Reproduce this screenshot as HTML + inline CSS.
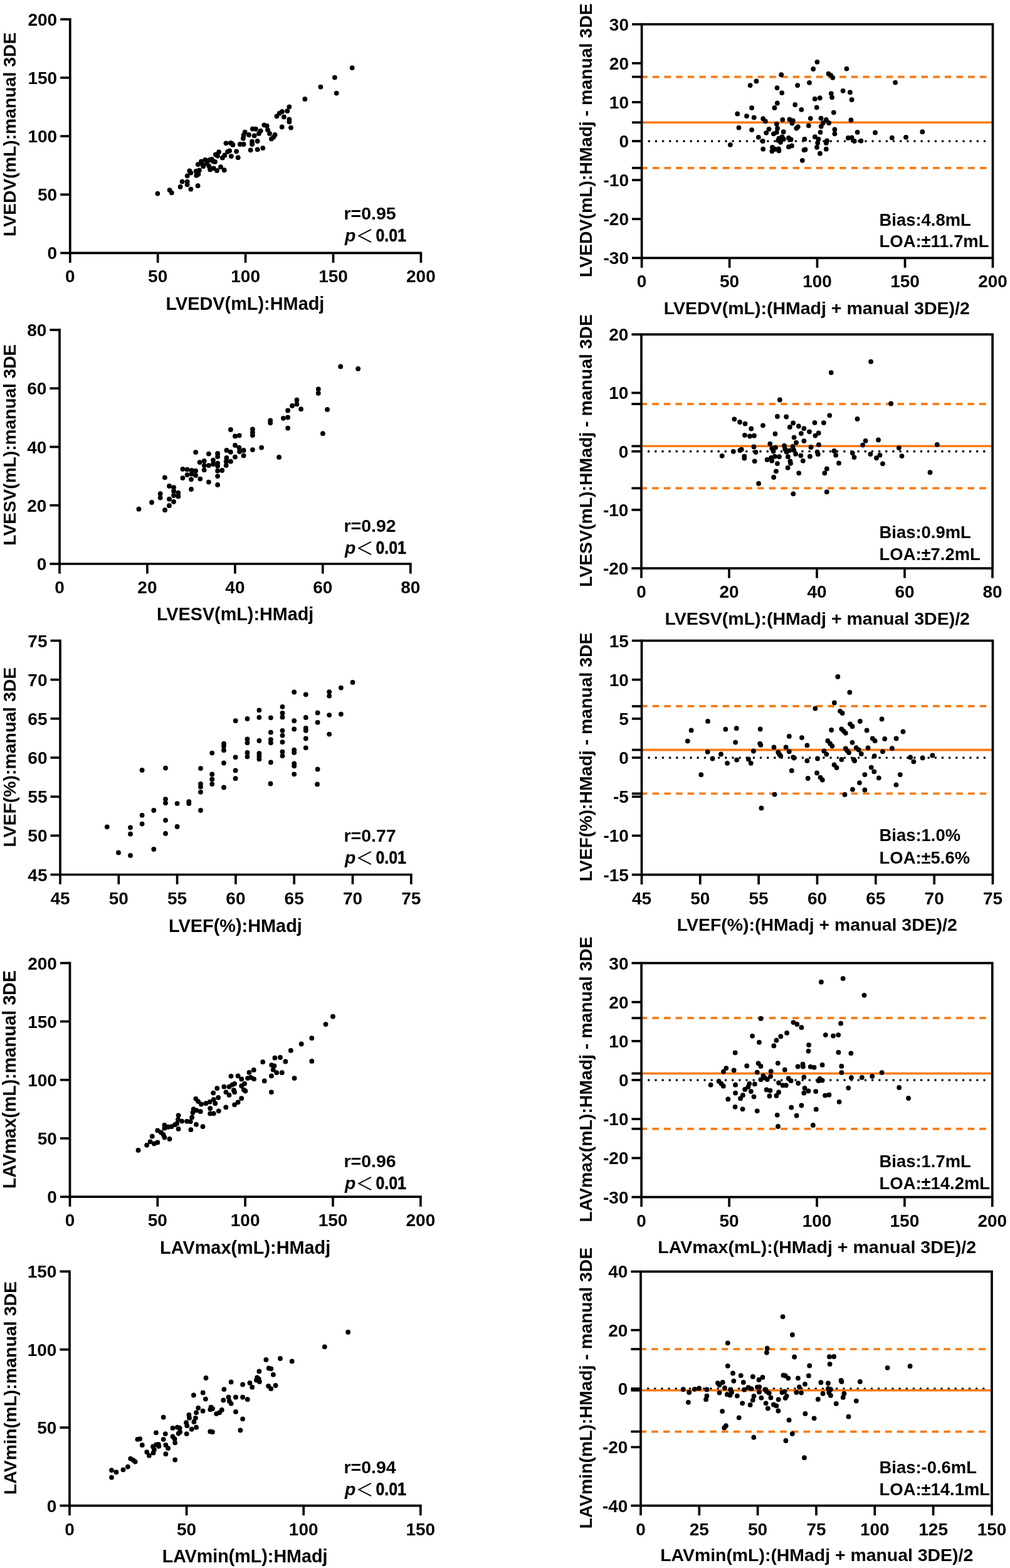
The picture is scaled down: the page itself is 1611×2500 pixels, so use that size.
<!DOCTYPE html><html><head><meta charset="utf-8"><title>Figure</title><style>html,body{margin:0;padding:0;background:#fff}svg{display:block;font-family:"Liberation Sans", Arial, sans-serif;font-weight:bold}</style></head><body>
<svg width="1611" height="2500" viewBox="0 0 1611 2500">
<rect width="1611" height="2500" fill="#fff"/>
<g><circle cx="251.4" cy="308.6" r="3.9"/><circle cx="270.6" cy="303.1" r="3.9"/><circle cx="273.8" cy="307.3" r="3.9"/><circle cx="287.6" cy="297.9" r="3.9"/><circle cx="290.6" cy="289.6" r="3.9"/><circle cx="298.7" cy="289.6" r="3.9"/><circle cx="298.7" cy="294.3" r="3.9"/><circle cx="304.4" cy="301.6" r="3.9"/><circle cx="315.6" cy="296.2" r="3.9"/><circle cx="298.7" cy="280.3" r="3.9"/><circle cx="302.3" cy="272.5" r="3.9"/><circle cx="304.4" cy="275.6" r="3.9"/><circle cx="312.7" cy="273.0" r="3.9"/><circle cx="317.9" cy="271.4" r="3.9"/><circle cx="313.2" cy="279.7" r="3.9"/><circle cx="316.4" cy="277.7" r="3.9"/><circle cx="315.8" cy="262.1" r="3.9"/><circle cx="321.0" cy="259.5" r="3.9"/><circle cx="324.2" cy="265.2" r="3.9"/><circle cx="327.3" cy="254.8" r="3.9"/><circle cx="330.4" cy="261.0" r="3.9"/><circle cx="334.5" cy="254.8" r="3.9"/><circle cx="337.7" cy="253.8" r="3.9"/><circle cx="342.9" cy="257.9" r="3.9"/><circle cx="333.5" cy="265.2" r="3.9"/><circle cx="335.1" cy="270.4" r="3.9"/><circle cx="340.8" cy="268.3" r="3.9"/><circle cx="346.0" cy="271.9" r="3.9"/><circle cx="352.0" cy="266.2" r="3.9"/><circle cx="357.7" cy="271.2" r="3.9"/><circle cx="343.9" cy="246.5" r="3.9"/><circle cx="349.1" cy="242.3" r="3.9"/><circle cx="347.0" cy="248.6" r="3.9"/><circle cx="354.8" cy="251.7" r="3.9"/><circle cx="358.4" cy="247.5" r="3.9"/><circle cx="363.1" cy="241.8" r="3.9"/><circle cx="366.2" cy="240.3" r="3.9"/><circle cx="368.8" cy="249.1" r="3.9"/><circle cx="377.1" cy="241.3" r="3.9"/><circle cx="379.7" cy="251.2" r="3.9"/><circle cx="360.5" cy="228.3" r="3.9"/><circle cx="367.8" cy="227.8" r="3.9"/><circle cx="371.4" cy="230.9" r="3.9"/><circle cx="321.0" cy="257.4" r="3.9"/><circle cx="330.4" cy="257.9" r="3.9"/><circle cx="339.7" cy="256.9" r="3.9"/><circle cx="323.1" cy="262.1" r="3.9"/><circle cx="369.9" cy="228.8" r="3.9"/><circle cx="561.7" cy="108.1" r="3.9"/><circle cx="533.9" cy="123.6" r="3.9"/><circle cx="536.7" cy="148.6" r="3.9"/><circle cx="511.4" cy="138.6" r="3.9"/><circle cx="486.4" cy="157.9" r="3.9"/><circle cx="461.4" cy="170.3" r="3.9"/><circle cx="458.3" cy="176.9" r="3.9"/><circle cx="450.0" cy="177.9" r="3.9"/><circle cx="445.7" cy="180.7" r="3.9"/><circle cx="441.4" cy="185.3" r="3.9"/><circle cx="452.9" cy="186.4" r="3.9"/><circle cx="461.4" cy="190.3" r="3.9"/><circle cx="461.4" cy="194.3" r="3.9"/><circle cx="449.7" cy="202.4" r="3.9"/><circle cx="464.0" cy="203.6" r="3.9"/><circle cx="421.4" cy="199.3" r="3.9"/><circle cx="425.7" cy="200.7" r="3.9"/><circle cx="427.1" cy="207.1" r="3.9"/><circle cx="430.0" cy="212.9" r="3.9"/><circle cx="432.9" cy="221.4" r="3.9"/><circle cx="438.6" cy="215.0" r="3.9"/><circle cx="436.4" cy="218.6" r="3.9"/><circle cx="402.9" cy="205.4" r="3.9"/><circle cx="407.9" cy="205.7" r="3.9"/><circle cx="415.7" cy="208.6" r="3.9"/><circle cx="412.9" cy="212.9" r="3.9"/><circle cx="390.7" cy="210.7" r="3.9"/><circle cx="388.6" cy="215.7" r="3.9"/><circle cx="397.1" cy="215.0" r="3.9"/><circle cx="405.7" cy="216.4" r="3.9"/><circle cx="387.9" cy="220.7" r="3.9"/><circle cx="402.1" cy="225.7" r="3.9"/><circle cx="402.1" cy="230.0" r="3.9"/><circle cx="410.7" cy="225.0" r="3.9"/><circle cx="382.9" cy="230.0" r="3.9"/><circle cx="388.6" cy="230.0" r="3.9"/><circle cx="399.7" cy="239.3" r="3.9"/><circle cx="410.7" cy="238.3" r="3.9"/><circle cx="419.3" cy="236.1" r="3.9"/><path d="M111.8 28.9 V403.4 H673.2" fill="none" stroke="#000" stroke-width="3.7"/><line x1="96.2" y1="403.4" x2="111.8" y2="403.4" stroke="#000" stroke-width="3.7"/><text x="91.2" y="413.4" font-size="28" text-anchor="end">0</text><line x1="96.2" y1="310.2" x2="111.8" y2="310.2" stroke="#000" stroke-width="3.7"/><text x="91.2" y="320.2" font-size="28" text-anchor="end">50</text><line x1="96.2" y1="217.1" x2="111.8" y2="217.1" stroke="#000" stroke-width="3.7"/><text x="91.2" y="227.1" font-size="28" text-anchor="end">100</text><line x1="96.2" y1="123.9" x2="111.8" y2="123.9" stroke="#000" stroke-width="3.7"/><text x="91.2" y="133.9" font-size="28" text-anchor="end">150</text><line x1="96.2" y1="30.8" x2="111.8" y2="30.8" stroke="#000" stroke-width="3.7"/><text x="91.2" y="40.8" font-size="28" text-anchor="end">200</text><line x1="111.8" y1="403.4" x2="111.8" y2="419.0" stroke="#000" stroke-width="3.7"/><text x="111.8" y="450.4" font-size="28" text-anchor="middle">0</text><line x1="251.7" y1="403.4" x2="251.7" y2="419.0" stroke="#000" stroke-width="3.7"/><text x="251.7" y="450.4" font-size="28" text-anchor="middle">50</text><line x1="391.6" y1="403.4" x2="391.6" y2="419.0" stroke="#000" stroke-width="3.7"/><text x="391.6" y="450.4" font-size="28" text-anchor="middle">100</text><line x1="531.5" y1="403.4" x2="531.5" y2="419.0" stroke="#000" stroke-width="3.7"/><text x="531.5" y="450.4" font-size="28" text-anchor="middle">150</text><line x1="671.4" y1="403.4" x2="671.4" y2="419.0" stroke="#000" stroke-width="3.7"/><text x="671.4" y="450.4" font-size="28" text-anchor="middle">200</text><text x="390.9" y="494.4" font-size="28.89" text-anchor="middle">LVEDV(mL):HMadj</text><text transform="translate(25.1 214.4) rotate(-90)" font-size="28.35" text-anchor="middle">LVEDV(mL):manual 3DE</text><text x="548.5" y="350.4" font-size="28.5">r=0.95</text><text x="550.1" y="384.7" font-size="28.5" font-style="italic">p</text><text x="567.2" y="386.7" font-size="28.5" font-weight="normal" font-family="'Noto Sans CJK SC','Noto Sans CJK JP',sans-serif">＜</text><text transform="translate(599.4 384.7) scale(0.855 1)" font-size="29.2" stroke="#000" stroke-width="0.5">0.01</text></g>
<g><circle cx="367.9" cy="685.0" r="3.9"/><circle cx="375.0" cy="695.4" r="3.9"/><circle cx="381.7" cy="694.3" r="3.9"/><circle cx="402.9" cy="684.3" r="3.9"/><circle cx="402.9" cy="689.3" r="3.9"/><circle cx="402.9" cy="694.0" r="3.9"/><circle cx="402.9" cy="717.1" r="3.9"/><circle cx="417.1" cy="713.6" r="3.9"/><circle cx="375.0" cy="710.0" r="3.9"/><circle cx="381.4" cy="713.6" r="3.9"/><circle cx="382.1" cy="720.0" r="3.9"/><circle cx="388.6" cy="717.9" r="3.9"/><circle cx="388.6" cy="726.4" r="3.9"/><circle cx="375.0" cy="728.6" r="3.9"/><circle cx="361.4" cy="717.9" r="3.9"/><circle cx="367.9" cy="720.7" r="3.9"/><circle cx="361.4" cy="730.0" r="3.9"/><circle cx="360.7" cy="735.7" r="3.9"/><circle cx="367.9" cy="735.7" r="3.9"/><circle cx="360.7" cy="742.1" r="3.9"/><circle cx="347.1" cy="722.9" r="3.9"/><circle cx="347.1" cy="727.9" r="3.9"/><circle cx="340.0" cy="733.6" r="3.9"/><circle cx="347.1" cy="738.6" r="3.9"/><circle cx="347.1" cy="742.9" r="3.9"/><circle cx="340.0" cy="740.0" r="3.9"/><circle cx="332.9" cy="742.1" r="3.9"/><circle cx="332.9" cy="723.6" r="3.9"/><circle cx="325.7" cy="735.0" r="3.9"/><circle cx="318.6" cy="737.1" r="3.9"/><circle cx="325.7" cy="742.1" r="3.9"/><circle cx="325.7" cy="749.3" r="3.9"/><circle cx="312.1" cy="721.1" r="3.9"/><circle cx="354.3" cy="750.0" r="3.9"/><circle cx="347.1" cy="750.7" r="3.9"/><circle cx="347.1" cy="759.3" r="3.9"/><circle cx="347.1" cy="772.9" r="3.9"/><circle cx="332.9" cy="768.6" r="3.9"/><circle cx="319.3" cy="763.6" r="3.9"/><circle cx="291.4" cy="747.9" r="3.9"/><circle cx="298.6" cy="748.6" r="3.9"/><circle cx="305.7" cy="750.0" r="3.9"/><circle cx="312.1" cy="750.7" r="3.9"/><circle cx="298.6" cy="757.1" r="3.9"/><circle cx="305.7" cy="755.7" r="3.9"/><circle cx="312.1" cy="757.9" r="3.9"/><circle cx="305.0" cy="764.3" r="3.9"/><circle cx="291.4" cy="762.1" r="3.9"/><circle cx="305.0" cy="780.0" r="3.9"/><circle cx="262.9" cy="761.4" r="3.9"/><circle cx="270.0" cy="775.0" r="3.9"/><circle cx="277.1" cy="777.1" r="3.9"/><circle cx="277.1" cy="782.9" r="3.9"/><circle cx="284.3" cy="785.7" r="3.9"/><circle cx="284.3" cy="791.4" r="3.9"/><circle cx="277.1" cy="790.0" r="3.9"/><circle cx="255.7" cy="787.1" r="3.9"/><circle cx="255.7" cy="793.6" r="3.9"/><circle cx="270.0" cy="795.7" r="3.9"/><circle cx="221.4" cy="811.7" r="3.9"/><circle cx="242.0" cy="801.0" r="3.9"/><circle cx="277.1" cy="800.0" r="3.9"/><circle cx="269.9" cy="806.2" r="3.9"/><circle cx="263.1" cy="813.2" r="3.9"/><circle cx="543.2" cy="584.4" r="3.9"/><circle cx="571.2" cy="587.9" r="3.9"/><circle cx="507.8" cy="620.4" r="3.9"/><circle cx="507.8" cy="626.9" r="3.9"/><circle cx="473.4" cy="637.7" r="3.9"/><circle cx="473.4" cy="644.4" r="3.9"/><circle cx="466.0" cy="647.0" r="3.9"/><circle cx="480.1" cy="652.2" r="3.9"/><circle cx="459.1" cy="654.5" r="3.9"/><circle cx="522.1" cy="652.9" r="3.9"/><circle cx="451.9" cy="666.8" r="3.9"/><circle cx="459.1" cy="665.5" r="3.9"/><circle cx="431.2" cy="670.4" r="3.9"/><circle cx="431.2" cy="674.3" r="3.9"/><circle cx="459.1" cy="682.7" r="3.9"/><circle cx="514.9" cy="691.2" r="3.9"/><circle cx="445.1" cy="728.9" r="3.9"/><path d="M95.0 524.1 V899.0 H656.6" fill="none" stroke="#000" stroke-width="3.7"/><line x1="79.4" y1="899.0" x2="95.0" y2="899.0" stroke="#000" stroke-width="3.7"/><text x="74.4" y="909.0" font-size="28" text-anchor="end">0</text><line x1="79.4" y1="805.7" x2="95.0" y2="805.7" stroke="#000" stroke-width="3.7"/><text x="74.4" y="815.7" font-size="28" text-anchor="end">20</text><line x1="79.4" y1="712.5" x2="95.0" y2="712.5" stroke="#000" stroke-width="3.7"/><text x="74.4" y="722.5" font-size="28" text-anchor="end">40</text><line x1="79.4" y1="619.2" x2="95.0" y2="619.2" stroke="#000" stroke-width="3.7"/><text x="74.4" y="629.2" font-size="28" text-anchor="end">60</text><line x1="79.4" y1="526.0" x2="95.0" y2="526.0" stroke="#000" stroke-width="3.7"/><text x="74.4" y="536.0" font-size="28" text-anchor="end">80</text><line x1="95.0" y1="899.0" x2="95.0" y2="914.6" stroke="#000" stroke-width="3.7"/><text x="95.0" y="946.0" font-size="28" text-anchor="middle">0</text><line x1="234.9" y1="899.0" x2="234.9" y2="914.6" stroke="#000" stroke-width="3.7"/><text x="234.9" y="946.0" font-size="28" text-anchor="middle">20</text><line x1="374.9" y1="899.0" x2="374.9" y2="914.6" stroke="#000" stroke-width="3.7"/><text x="374.9" y="946.0" font-size="28" text-anchor="middle">40</text><line x1="514.8" y1="899.0" x2="514.8" y2="914.6" stroke="#000" stroke-width="3.7"/><text x="514.8" y="946.0" font-size="28" text-anchor="middle">60</text><line x1="654.8" y1="899.0" x2="654.8" y2="914.6" stroke="#000" stroke-width="3.7"/><text x="654.8" y="946.0" font-size="28" text-anchor="middle">80</text><text x="375.1" y="989.1" font-size="28.78" text-anchor="middle">LVESV(mL):HMadj</text><text transform="translate(25.4 709.2) rotate(-90)" font-size="28.09" text-anchor="middle">LVESV(mL):manual 3DE</text><text x="548.5" y="848.2" font-size="28.5">r=0.92</text><text x="550.1" y="883.2" font-size="28.5" font-style="italic">p</text><text x="567.2" y="885.2" font-size="28.5" font-weight="normal" font-family="'Noto Sans CJK SC','Noto Sans CJK JP',sans-serif">＜</text><text transform="translate(599.4 883.2) scale(0.855 1)" font-size="29.2" stroke="#000" stroke-width="0.5">0.01</text></g>
<g><circle cx="170.8" cy="1318.3" r="3.9"/><circle cx="189.0" cy="1359.4" r="3.9"/><circle cx="208.0" cy="1319.3" r="3.9"/><circle cx="208.0" cy="1329.7" r="3.9"/><circle cx="208.0" cy="1363.9" r="3.9"/><circle cx="226.6" cy="1227.9" r="3.9"/><circle cx="226.6" cy="1299.8" r="3.9"/><circle cx="226.6" cy="1313.6" r="3.9"/><circle cx="245.3" cy="1292.0" r="3.9"/><circle cx="245.3" cy="1354.0" r="3.9"/><circle cx="264.0" cy="1224.6" r="3.9"/><circle cx="264.0" cy="1274.2" r="3.9"/><circle cx="264.0" cy="1280.3" r="3.9"/><circle cx="264.0" cy="1307.8" r="3.9"/><circle cx="264.0" cy="1328.9" r="3.9"/><circle cx="282.6" cy="1281.1" r="3.9"/><circle cx="282.6" cy="1318.0" r="3.9"/><circle cx="301.3" cy="1278.2" r="3.9"/><circle cx="301.3" cy="1281.0" r="3.9"/><circle cx="320.0" cy="1225.1" r="3.9"/><circle cx="320.0" cy="1249.8" r="3.9"/><circle cx="320.0" cy="1254.4" r="3.9"/><circle cx="320.0" cy="1262.8" r="3.9"/><circle cx="320.0" cy="1292.0" r="3.9"/><circle cx="338.3" cy="1200.6" r="3.9"/><circle cx="338.3" cy="1234.4" r="3.9"/><circle cx="338.3" cy="1242.5" r="3.9"/><circle cx="338.3" cy="1250.1" r="3.9"/><circle cx="357.0" cy="1185.7" r="3.9"/><circle cx="357.0" cy="1189.7" r="3.9"/><circle cx="357.0" cy="1196.2" r="3.9"/><circle cx="357.0" cy="1216.5" r="3.9"/><circle cx="357.0" cy="1255.5" r="3.9"/><circle cx="375.6" cy="1207.3" r="3.9"/><circle cx="375.6" cy="1228.4" r="3.9"/><circle cx="375.6" cy="1241.2" r="3.9"/><circle cx="394.5" cy="1146.0" r="3.9"/><circle cx="394.5" cy="1178.4" r="3.9"/><circle cx="394.5" cy="1184.3" r="3.9"/><circle cx="394.5" cy="1199.9" r="3.9"/><circle cx="394.5" cy="1206.4" r="3.9"/><circle cx="413.4" cy="1132.3" r="3.9"/><circle cx="413.4" cy="1143.8" r="3.9"/><circle cx="413.4" cy="1181.0" r="3.9"/><circle cx="413.4" cy="1201.2" r="3.9"/><circle cx="413.4" cy="1205.7" r="3.9"/><circle cx="413.4" cy="1210.3" r="3.9"/><circle cx="431.9" cy="1144.3" r="3.9"/><circle cx="431.9" cy="1167.7" r="3.9"/><circle cx="431.9" cy="1179.1" r="3.9"/><circle cx="431.9" cy="1184.3" r="3.9"/><circle cx="431.9" cy="1215.5" r="3.9"/><circle cx="450.5" cy="1126.8" r="3.9"/><circle cx="450.5" cy="1136.9" r="3.9"/><circle cx="450.5" cy="1143.4" r="3.9"/><circle cx="450.5" cy="1164.8" r="3.9"/><circle cx="450.5" cy="1172.6" r="3.9"/><circle cx="450.5" cy="1183.2" r="3.9"/><circle cx="450.5" cy="1198.6" r="3.9"/><circle cx="450.5" cy="1205.1" r="3.9"/><circle cx="469.2" cy="1103.5" r="3.9"/><circle cx="469.2" cy="1149.2" r="3.9"/><circle cx="469.2" cy="1162.5" r="3.9"/><circle cx="469.2" cy="1195.7" r="3.9"/><circle cx="469.2" cy="1199.9" r="3.9"/><circle cx="469.2" cy="1217.4" r="3.9"/><circle cx="469.2" cy="1221.3" r="3.9"/><circle cx="469.2" cy="1234.3" r="3.9"/><circle cx="487.8" cy="1107.3" r="3.9"/><circle cx="487.8" cy="1144.0" r="3.9"/><circle cx="487.8" cy="1160.9" r="3.9"/><circle cx="487.8" cy="1164.8" r="3.9"/><circle cx="487.8" cy="1177.5" r="3.9"/><circle cx="487.8" cy="1192.3" r="3.9"/><circle cx="506.6" cy="1136.5" r="3.9"/><circle cx="506.6" cy="1151.8" r="3.9"/><circle cx="506.6" cy="1226.5" r="3.9"/><circle cx="525.2" cy="1103.1" r="3.9"/><circle cx="525.2" cy="1109.6" r="3.9"/><circle cx="525.2" cy="1140.1" r="3.9"/><circle cx="525.2" cy="1170.6" r="3.9"/><circle cx="543.9" cy="1096.6" r="3.9"/><circle cx="543.9" cy="1138.6" r="3.9"/><circle cx="562.5" cy="1087.9" r="3.9"/><circle cx="375.7" cy="1149.2" r="3.9"/><circle cx="431.5" cy="1249.5" r="3.9"/><circle cx="506.1" cy="1250.4" r="3.9"/><path d="M96.0 1019.7 V1394.5 H657.6" fill="none" stroke="#000" stroke-width="3.7"/><line x1="80.5" y1="1394.5" x2="96.0" y2="1394.5" stroke="#000" stroke-width="3.7"/><text x="75.5" y="1404.5" font-size="28" text-anchor="end">45</text><line x1="80.5" y1="1332.3" x2="96.0" y2="1332.3" stroke="#000" stroke-width="3.7"/><text x="75.5" y="1342.3" font-size="28" text-anchor="end">50</text><line x1="80.5" y1="1270.2" x2="96.0" y2="1270.2" stroke="#000" stroke-width="3.7"/><text x="75.5" y="1280.2" font-size="28" text-anchor="end">55</text><line x1="80.5" y1="1208.0" x2="96.0" y2="1208.0" stroke="#000" stroke-width="3.7"/><text x="75.5" y="1218.0" font-size="28" text-anchor="end">60</text><line x1="80.5" y1="1145.8" x2="96.0" y2="1145.8" stroke="#000" stroke-width="3.7"/><text x="75.5" y="1155.8" font-size="28" text-anchor="end">65</text><line x1="80.5" y1="1083.7" x2="96.0" y2="1083.7" stroke="#000" stroke-width="3.7"/><text x="75.5" y="1093.7" font-size="28" text-anchor="end">70</text><line x1="80.5" y1="1021.5" x2="96.0" y2="1021.5" stroke="#000" stroke-width="3.7"/><text x="75.5" y="1031.5" font-size="28" text-anchor="end">75</text><line x1="96.0" y1="1394.5" x2="96.0" y2="1410.0" stroke="#000" stroke-width="3.7"/><text x="96.0" y="1441.5" font-size="28" text-anchor="middle">45</text><line x1="189.3" y1="1394.5" x2="189.3" y2="1410.0" stroke="#000" stroke-width="3.7"/><text x="189.3" y="1441.5" font-size="28" text-anchor="middle">50</text><line x1="282.6" y1="1394.5" x2="282.6" y2="1410.0" stroke="#000" stroke-width="3.7"/><text x="282.6" y="1441.5" font-size="28" text-anchor="middle">55</text><line x1="375.9" y1="1394.5" x2="375.9" y2="1410.0" stroke="#000" stroke-width="3.7"/><text x="375.9" y="1441.5" font-size="28" text-anchor="middle">60</text><line x1="469.2" y1="1394.5" x2="469.2" y2="1410.0" stroke="#000" stroke-width="3.7"/><text x="469.2" y="1441.5" font-size="28" text-anchor="middle">65</text><line x1="562.5" y1="1394.5" x2="562.5" y2="1410.0" stroke="#000" stroke-width="3.7"/><text x="562.5" y="1441.5" font-size="28" text-anchor="middle">70</text><line x1="655.8" y1="1394.5" x2="655.8" y2="1410.0" stroke="#000" stroke-width="3.7"/><text x="655.8" y="1441.5" font-size="28" text-anchor="middle">75</text><text x="375.4" y="1485.5" font-size="28.9" text-anchor="middle">LVEF(%):HMadj</text><text transform="translate(24.9 1207.3) rotate(-90)" font-size="28.44" text-anchor="middle">LVEF(%):manual 3DE</text><text x="548.5" y="1341.8" font-size="28.5">r=0.77</text><text x="550.1" y="1376.8" font-size="28.5" font-style="italic">p</text><text x="567.2" y="1378.8" font-size="28.5" font-weight="normal" font-family="'Noto Sans CJK SC','Noto Sans CJK JP',sans-serif">＜</text><text transform="translate(599.4 1376.8) scale(0.855 1)" font-size="29.2" stroke="#000" stroke-width="0.5">0.01</text></g>
<g><circle cx="220.5" cy="1833.9" r="3.9"/><circle cx="234.1" cy="1825.8" r="3.9"/><circle cx="239.6" cy="1820.3" r="3.9"/><circle cx="245.8" cy="1823.4" r="3.9"/><circle cx="251.3" cy="1821.5" r="3.9"/><circle cx="242.7" cy="1811.7" r="3.9"/><circle cx="251.3" cy="1802.4" r="3.9"/><circle cx="256.9" cy="1805.5" r="3.9"/><circle cx="260.6" cy="1809.2" r="3.9"/><circle cx="262.4" cy="1813.5" r="3.9"/><circle cx="270.5" cy="1816.0" r="3.9"/><circle cx="262.4" cy="1793.8" r="3.9"/><circle cx="262.4" cy="1798.7" r="3.9"/><circle cx="268.0" cy="1796.9" r="3.9"/><circle cx="273.5" cy="1796.2" r="3.9"/><circle cx="279.1" cy="1793.2" r="3.9"/><circle cx="284.6" cy="1778.3" r="3.9"/><circle cx="284.0" cy="1785.1" r="3.9"/><circle cx="290.2" cy="1787.6" r="3.9"/><circle cx="282.2" cy="1791.3" r="3.9"/><circle cx="284.6" cy="1799.9" r="3.9"/><circle cx="298.2" cy="1787.8" r="3.9"/><circle cx="303.8" cy="1788.2" r="3.9"/><circle cx="306.2" cy="1781.4" r="3.9"/><circle cx="307.5" cy="1774.0" r="3.9"/><circle cx="308.7" cy="1768.5" r="3.9"/><circle cx="313.6" cy="1770.3" r="3.9"/><circle cx="319.8" cy="1772.2" r="3.9"/><circle cx="304.4" cy="1801.2" r="3.9"/><circle cx="313.0" cy="1792.8" r="3.9"/><circle cx="323.5" cy="1796.2" r="3.9"/><circle cx="312.4" cy="1751.8" r="3.9"/><circle cx="316.1" cy="1756.1" r="3.9"/><circle cx="321.0" cy="1760.5" r="3.9"/><circle cx="328.4" cy="1759.2" r="3.9"/><circle cx="334.6" cy="1756.8" r="3.9"/><circle cx="340.8" cy="1753.1" r="3.9"/><circle cx="343.3" cy="1759.2" r="3.9"/><circle cx="348.2" cy="1750.0" r="3.9"/><circle cx="340.2" cy="1742.6" r="3.9"/><circle cx="346.3" cy="1735.2" r="3.9"/><circle cx="335.2" cy="1767.2" r="3.9"/><circle cx="335.2" cy="1775.5" r="3.9"/><circle cx="340.8" cy="1775.3" r="3.9"/><circle cx="348.8" cy="1771.3" r="3.9"/><circle cx="360.3" cy="1765.4" r="3.9"/><circle cx="357.4" cy="1732.7" r="3.9"/><circle cx="360.5" cy="1741.3" r="3.9"/><circle cx="365.5" cy="1745.9" r="3.9"/><circle cx="368.5" cy="1715.8" r="3.9"/><circle cx="365.5" cy="1732.7" r="3.9"/><circle cx="370.4" cy="1729.6" r="3.9"/><circle cx="374.1" cy="1727.8" r="3.9"/><circle cx="372.9" cy="1738.2" r="3.9"/><circle cx="374.1" cy="1741.3" r="3.9"/><circle cx="379.6" cy="1715.4" r="3.9"/><circle cx="385.2" cy="1720.4" r="3.9"/><circle cx="385.2" cy="1731.5" r="3.9"/><circle cx="390.1" cy="1727.8" r="3.9"/><circle cx="388.9" cy="1737.6" r="3.9"/><circle cx="391.4" cy="1739.5" r="3.9"/><circle cx="395.1" cy="1719.1" r="3.9"/><circle cx="397.5" cy="1709.9" r="3.9"/><circle cx="374.1" cy="1761.3" r="3.9"/><circle cx="379.6" cy="1757.4" r="3.9"/><circle cx="385.2" cy="1751.2" r="3.9"/><circle cx="531.0" cy="1620.7" r="3.9"/><circle cx="519.5" cy="1633.1" r="3.9"/><circle cx="497.3" cy="1655.2" r="3.9"/><circle cx="480.7" cy="1664.5" r="3.9"/><circle cx="463.8" cy="1674.9" r="3.9"/><circle cx="497.3" cy="1691.9" r="3.9"/><circle cx="438.4" cy="1686.7" r="3.9"/><circle cx="447.0" cy="1686.0" r="3.9"/><circle cx="455.4" cy="1692.5" r="3.9"/><circle cx="419.2" cy="1693.2" r="3.9"/><circle cx="433.2" cy="1698.1" r="3.9"/><circle cx="437.5" cy="1699.3" r="3.9"/><circle cx="435.7" cy="1705.5" r="3.9"/><circle cx="441.2" cy="1710.2" r="3.9"/><circle cx="449.8" cy="1710.2" r="3.9"/><circle cx="432.9" cy="1715.4" r="3.9"/><circle cx="469.6" cy="1719.1" r="3.9"/><circle cx="421.8" cy="1723.4" r="3.9"/><circle cx="432.9" cy="1741.3" r="3.9"/><circle cx="404.8" cy="1705.9" r="3.9"/><circle cx="399.9" cy="1717.8" r="3.9"/><circle cx="405.1" cy="1720.3" r="3.9"/><path d="M111.5 1533.6 V1908.2 H672.7" fill="none" stroke="#000" stroke-width="3.7"/><line x1="95.9" y1="1908.2" x2="111.5" y2="1908.2" stroke="#000" stroke-width="3.7"/><text x="90.9" y="1918.2" font-size="28" text-anchor="end">0</text><line x1="95.9" y1="1815.0" x2="111.5" y2="1815.0" stroke="#000" stroke-width="3.7"/><text x="90.9" y="1825.0" font-size="28" text-anchor="end">50</text><line x1="95.9" y1="1721.8" x2="111.5" y2="1721.8" stroke="#000" stroke-width="3.7"/><text x="90.9" y="1731.8" font-size="28" text-anchor="end">100</text><line x1="95.9" y1="1628.6" x2="111.5" y2="1628.6" stroke="#000" stroke-width="3.7"/><text x="90.9" y="1638.6" font-size="28" text-anchor="end">150</text><line x1="95.9" y1="1535.5" x2="111.5" y2="1535.5" stroke="#000" stroke-width="3.7"/><text x="90.9" y="1545.5" font-size="28" text-anchor="end">200</text><line x1="111.5" y1="1908.2" x2="111.5" y2="1923.8" stroke="#000" stroke-width="3.7"/><text x="111.5" y="1955.2" font-size="28" text-anchor="middle">0</text><line x1="251.3" y1="1908.2" x2="251.3" y2="1923.8" stroke="#000" stroke-width="3.7"/><text x="251.3" y="1955.2" font-size="28" text-anchor="middle">50</text><line x1="391.1" y1="1908.2" x2="391.1" y2="1923.8" stroke="#000" stroke-width="3.7"/><text x="391.1" y="1955.2" font-size="28" text-anchor="middle">100</text><line x1="531.0" y1="1908.2" x2="531.0" y2="1923.8" stroke="#000" stroke-width="3.7"/><text x="531.0" y="1955.2" font-size="28" text-anchor="middle">150</text><line x1="670.9" y1="1908.2" x2="670.9" y2="1923.8" stroke="#000" stroke-width="3.7"/><text x="670.9" y="1955.2" font-size="28" text-anchor="middle">200</text><text x="391.2" y="1998.7" font-size="28.89" text-anchor="middle">LAVmax(mL):HMadj</text><text transform="translate(25.3 1721.2) rotate(-90)" font-size="28.66" text-anchor="middle">LAVmax(mL):manual 3DE</text><text x="548.5" y="1861.4" font-size="28.5">r=0.96</text><text x="550.1" y="1895.9" font-size="28.5" font-style="italic">p</text><text x="567.2" y="1897.9" font-size="28.5" font-weight="normal" font-family="'Noto Sans CJK SC','Noto Sans CJK JP',sans-serif">＜</text><text transform="translate(599.4 1895.9) scale(0.855 1)" font-size="29.2" stroke="#000" stroke-width="0.5">0.01</text></g>
<g><circle cx="178.0" cy="2344.1" r="3.9"/><circle cx="185.4" cy="2347.2" r="3.9"/><circle cx="178.0" cy="2355.6" r="3.9"/><circle cx="196.5" cy="2343.3" r="3.9"/><circle cx="203.9" cy="2338.6" r="3.9"/><circle cx="208.2" cy="2325.6" r="3.9"/><circle cx="212.6" cy="2328.1" r="3.9"/><circle cx="215.7" cy="2330.6" r="3.9"/><circle cx="219.4" cy="2294.8" r="3.9"/><circle cx="223.1" cy="2294.2" r="3.9"/><circle cx="226.8" cy="2304.0" r="3.9"/><circle cx="234.2" cy="2315.1" r="3.9"/><circle cx="237.9" cy="2320.7" r="3.9"/><circle cx="244.6" cy="2316.4" r="3.9"/><circle cx="245.9" cy="2311.4" r="3.9"/><circle cx="244.0" cy="2306.5" r="3.9"/><circle cx="249.0" cy="2303.4" r="3.9"/><circle cx="252.7" cy="2302.8" r="3.9"/><circle cx="253.3" cy="2305.9" r="3.9"/><circle cx="249.0" cy="2284.3" r="3.9"/><circle cx="260.7" cy="2259.6" r="3.9"/><circle cx="263.8" cy="2286.1" r="3.9"/><circle cx="260.7" cy="2294.8" r="3.9"/><circle cx="264.4" cy="2304.0" r="3.9"/><circle cx="268.1" cy="2309.0" r="3.9"/><circle cx="264.4" cy="2318.2" r="3.9"/><circle cx="275.5" cy="2276.9" r="3.9"/><circle cx="282.9" cy="2275.7" r="3.9"/><circle cx="286.6" cy="2276.9" r="3.9"/><circle cx="275.5" cy="2290.5" r="3.9"/><circle cx="278.6" cy="2294.2" r="3.9"/><circle cx="279.2" cy="2300.3" r="3.9"/><circle cx="284.7" cy="2285.5" r="3.9"/><circle cx="287.2" cy="2283.1" r="3.9"/><circle cx="279.2" cy="2327.5" r="3.9"/><circle cx="297.7" cy="2286.1" r="3.9"/><circle cx="297.1" cy="2268.2" r="3.9"/><circle cx="298.3" cy="2273.2" r="3.9"/><circle cx="301.4" cy="2255.9" r="3.9"/><circle cx="302.0" cy="2260.8" r="3.9"/><circle cx="305.7" cy="2278.7" r="3.9"/><circle cx="309.4" cy="2267.0" r="3.9"/><circle cx="311.9" cy="2260.8" r="3.9"/><circle cx="313.1" cy="2275.7" r="3.9"/><circle cx="313.1" cy="2252.2" r="3.9"/><circle cx="316.2" cy="2244.8" r="3.9"/><circle cx="323.6" cy="2249.7" r="3.9"/><circle cx="336.6" cy="2243.6" r="3.9"/><circle cx="335.3" cy="2247.3" r="3.9"/><circle cx="339.0" cy="2246.0" r="3.9"/><circle cx="335.3" cy="2282.4" r="3.9"/><circle cx="339.0" cy="2283.1" r="3.9"/><circle cx="345.2" cy="2254.1" r="3.9"/><circle cx="350.1" cy="2252.2" r="3.9"/><circle cx="353.8" cy="2247.9" r="3.9"/><circle cx="327.9" cy="2230.6" r="3.9"/><circle cx="356.3" cy="2232.5" r="3.9"/><circle cx="424.4" cy="2167.9" r="3.9"/><circle cx="447.0" cy="2166.0" r="3.9"/><circle cx="465.7" cy="2170.4" r="3.9"/><circle cx="428.7" cy="2181.5" r="3.9"/><circle cx="432.4" cy="2182.3" r="3.9"/><circle cx="435.9" cy="2191.7" r="3.9"/><circle cx="413.4" cy="2186.4" r="3.9"/><circle cx="410.2" cy="2196.3" r="3.9"/><circle cx="412.7" cy="2198.7" r="3.9"/><circle cx="413.9" cy="2203.1" r="3.9"/><circle cx="409.0" cy="2200.6" r="3.9"/><circle cx="398.5" cy="2204.9" r="3.9"/><circle cx="402.2" cy="2211.7" r="3.9"/><circle cx="387.1" cy="2207.4" r="3.9"/><circle cx="368.6" cy="2203.4" r="3.9"/><circle cx="357.4" cy="2215.1" r="3.9"/><circle cx="428.1" cy="2209.8" r="3.9"/><circle cx="432.2" cy="2214.2" r="3.9"/><circle cx="439.6" cy="2209.0" r="3.9"/><circle cx="364.5" cy="2227.7" r="3.9"/><circle cx="365.8" cy="2233.9" r="3.9"/><circle cx="368.6" cy="2237.8" r="3.9"/><circle cx="376.0" cy="2227.7" r="3.9"/><circle cx="387.1" cy="2227.7" r="3.9"/><circle cx="394.8" cy="2231.2" r="3.9"/><circle cx="376.0" cy="2250.9" r="3.9"/><circle cx="387.1" cy="2262.3" r="3.9"/><circle cx="383.4" cy="2280.4" r="3.9"/><circle cx="328.5" cy="2197.0" r="3.9"/><circle cx="555.2" cy="2124.0" r="3.9"/><circle cx="517.8" cy="2147.3" r="3.9"/><circle cx="308.9" cy="2224.5" r="3.9"/><circle cx="323.7" cy="2220.4" r="3.9"/><path d="M111.0 2025.4 V2400.6 H672.6" fill="none" stroke="#000" stroke-width="3.7"/><line x1="95.4" y1="2400.6" x2="111.0" y2="2400.6" stroke="#000" stroke-width="3.7"/><text x="90.4" y="2410.6" font-size="28" text-anchor="end">0</text><line x1="95.4" y1="2276.1" x2="111.0" y2="2276.1" stroke="#000" stroke-width="3.7"/><text x="90.4" y="2286.1" font-size="28" text-anchor="end">50</text><line x1="95.4" y1="2151.7" x2="111.0" y2="2151.7" stroke="#000" stroke-width="3.7"/><text x="90.4" y="2161.7" font-size="28" text-anchor="end">100</text><line x1="95.4" y1="2027.2" x2="111.0" y2="2027.2" stroke="#000" stroke-width="3.7"/><text x="90.4" y="2037.2" font-size="28" text-anchor="end">150</text><line x1="111.0" y1="2400.6" x2="111.0" y2="2416.2" stroke="#000" stroke-width="3.7"/><text x="111.0" y="2447.6" font-size="28" text-anchor="middle">0</text><line x1="297.6" y1="2400.6" x2="297.6" y2="2416.2" stroke="#000" stroke-width="3.7"/><text x="297.6" y="2447.6" font-size="28" text-anchor="middle">50</text><line x1="484.2" y1="2400.6" x2="484.2" y2="2416.2" stroke="#000" stroke-width="3.7"/><text x="484.2" y="2447.6" font-size="28" text-anchor="middle">100</text><line x1="670.8" y1="2400.6" x2="670.8" y2="2416.2" stroke="#000" stroke-width="3.7"/><text x="670.8" y="2447.6" font-size="28" text-anchor="middle">150</text><text x="390.5" y="2491.0" font-size="28.66" text-anchor="middle">LAVmin(mL):HMadj</text><text transform="translate(26.1 2213.0) rotate(-90)" font-size="28.54" text-anchor="middle">LAVmin(mL):manual 3DE</text><text x="548.5" y="2349.1" font-size="28.5">r=0.94</text><text x="550.1" y="2384.1" font-size="28.5" font-style="italic">p</text><text x="567.2" y="2386.1" font-size="28.5" font-weight="normal" font-family="'Noto Sans CJK SC','Noto Sans CJK JP',sans-serif">＜</text><text transform="translate(599.4 2384.1) scale(0.855 1)" font-size="29.2" stroke="#000" stroke-width="0.5">0.01</text></g>
<g><line x1="1035.30" y1="225.00" x2="1572.50" y2="225.00" stroke="#000" stroke-width="3.7" stroke-linecap="round" stroke-dasharray="0 11.15"/><line x1="1022.20" y1="122.53" x2="1574.50" y2="122.53" stroke="#f77b14" stroke-width="3.7" stroke-dasharray="10.5 8.14"/><line x1="1022.20" y1="267.85" x2="1574.50" y2="267.85" stroke="#f77b14" stroke-width="3.7" stroke-dasharray="10.5 8.14"/><line x1="1023.60" y1="195.19" x2="1583.50" y2="195.19" stroke="#f77b14" stroke-width="3.6"/><circle cx="1303.4" cy="98.8" r="3.9"/><circle cx="1297.2" cy="110.0" r="3.9"/><circle cx="1321.5" cy="117.6" r="3.9"/><circle cx="1325.2" cy="120.1" r="3.9"/><circle cx="1328.3" cy="123.8" r="3.9"/><circle cx="1246.2" cy="119.2" r="3.9"/><circle cx="1206.4" cy="129.4" r="3.9"/><circle cx="1196.6" cy="136.1" r="3.9"/><circle cx="1239.5" cy="140.1" r="3.9"/><circle cx="1247.2" cy="148.1" r="3.9"/><circle cx="1272.1" cy="136.1" r="3.9"/><circle cx="1291.0" cy="131.8" r="3.9"/><circle cx="1325.8" cy="149.1" r="3.9"/><circle cx="1327.1" cy="155.3" r="3.9"/><circle cx="1299.7" cy="157.7" r="3.9"/><circle cx="1307.7" cy="156.2" r="3.9"/><circle cx="1239.8" cy="164.5" r="3.9"/><circle cx="1235.4" cy="171.9" r="3.9"/><circle cx="1268.2" cy="167.0" r="3.9"/><circle cx="1278.3" cy="174.8" r="3.9"/><circle cx="1302.7" cy="171.3" r="3.9"/><circle cx="1329.8" cy="179.3" r="3.9"/><circle cx="1199.1" cy="171.9" r="3.9"/><circle cx="1176.2" cy="181.4" r="3.9"/><circle cx="1191.0" cy="185.1" r="3.9"/><circle cx="1202.7" cy="187.3" r="3.9"/><circle cx="1217.2" cy="189.2" r="3.9"/><circle cx="1220.9" cy="193.3" r="3.9"/><circle cx="1248.3" cy="190.8" r="3.9"/><circle cx="1259.4" cy="190.4" r="3.9"/><circle cx="1264.7" cy="192.3" r="3.9"/><circle cx="1263.5" cy="196.6" r="3.9"/><circle cx="1292.8" cy="188.8" r="3.9"/><circle cx="1309.5" cy="188.6" r="3.9"/><circle cx="1317.8" cy="191.0" r="3.9"/><circle cx="1322.1" cy="196.0" r="3.9"/><circle cx="1312.9" cy="196.0" r="3.9"/><circle cx="1309.8" cy="201.5" r="3.9"/><circle cx="1238.8" cy="197.8" r="3.9"/><circle cx="1240.1" cy="204.6" r="3.9"/><circle cx="1226.5" cy="205.8" r="3.9"/><circle cx="1222.2" cy="211.8" r="3.9"/><circle cx="1233.9" cy="213.3" r="3.9"/><circle cx="1238.8" cy="210.8" r="3.9"/><circle cx="1249.7" cy="210.2" r="3.9"/><circle cx="1178.4" cy="203.6" r="3.9"/><circle cx="1199.1" cy="207.1" r="3.9"/><circle cx="1272.8" cy="202.1" r="3.9"/><circle cx="1270.3" cy="204.6" r="3.9"/><circle cx="1289.8" cy="200.3" r="3.9"/><circle cx="1209.8" cy="218.8" r="3.9"/><circle cx="1216.6" cy="225.0" r="3.9"/><circle cx="1164.8" cy="230.8" r="3.9"/><circle cx="1242.5" cy="220.7" r="3.9"/><circle cx="1247.5" cy="218.2" r="3.9"/><circle cx="1245.0" cy="226.8" r="3.9"/><circle cx="1249.9" cy="221.9" r="3.9"/><circle cx="1241.3" cy="223.7" r="3.9"/><circle cx="1258.0" cy="220.0" r="3.9"/><circle cx="1261.7" cy="222.5" r="3.9"/><circle cx="1283.3" cy="221.9" r="3.9"/><circle cx="1299.9" cy="218.2" r="3.9"/><circle cx="1305.5" cy="221.9" r="3.9"/><circle cx="1304.2" cy="228.1" r="3.9"/><circle cx="1303.0" cy="234.8" r="3.9"/><circle cx="1308.5" cy="210.8" r="3.9"/><circle cx="1331.4" cy="206.5" r="3.9"/><circle cx="1331.4" cy="213.3" r="3.9"/><circle cx="1319.0" cy="224.4" r="3.9"/><circle cx="1317.8" cy="228.1" r="3.9"/><circle cx="1317.8" cy="237.7" r="3.9"/><circle cx="1217.2" cy="237.7" r="3.9"/><circle cx="1232.0" cy="234.8" r="3.9"/><circle cx="1231.4" cy="241.0" r="3.9"/><circle cx="1241.9" cy="237.3" r="3.9"/><circle cx="1242.5" cy="240.4" r="3.9"/><circle cx="1236.4" cy="237.9" r="3.9"/><circle cx="1258.0" cy="234.2" r="3.9"/><circle cx="1262.9" cy="232.4" r="3.9"/><circle cx="1282.6" cy="239.2" r="3.9"/><circle cx="1284.5" cy="238.5" r="3.9"/><circle cx="1307.9" cy="244.7" r="3.9"/><circle cx="1279.8" cy="255.8" r="3.9"/><circle cx="1350.4" cy="109.6" r="3.9"/><circle cx="1428.1" cy="131.6" r="3.9"/><circle cx="1344.6" cy="144.8" r="3.9"/><circle cx="1355.9" cy="147.2" r="3.9"/><circle cx="1358.6" cy="159.0" r="3.9"/><circle cx="1357.4" cy="191.4" r="3.9"/><circle cx="1367.6" cy="210.8" r="3.9"/><circle cx="1396.0" cy="211.4" r="3.9"/><circle cx="1471.3" cy="210.2" r="3.9"/><circle cx="1352.8" cy="220.0" r="3.9"/><circle cx="1358.6" cy="219.4" r="3.9"/><circle cx="1362.7" cy="225.0" r="3.9"/><circle cx="1373.4" cy="224.6" r="3.9"/><circle cx="1422.8" cy="219.7" r="3.9"/><circle cx="1445.0" cy="218.8" r="3.9"/><rect x="1023.6" y="38.7" width="559.9" height="372.6" fill="none" stroke="#000" stroke-width="3.7"/><line x1="1008.0" y1="411.3" x2="1023.6" y2="411.3" stroke="#000" stroke-width="3.7"/><text x="1003.0" y="421.3" font-size="28" text-anchor="end">-30</text><line x1="1008.0" y1="349.2" x2="1023.6" y2="349.2" stroke="#000" stroke-width="3.7"/><text x="1003.0" y="359.2" font-size="28" text-anchor="end">-20</text><line x1="1008.0" y1="287.1" x2="1023.6" y2="287.1" stroke="#000" stroke-width="3.7"/><text x="1003.0" y="297.1" font-size="28" text-anchor="end">-10</text><line x1="1008.0" y1="225.0" x2="1023.6" y2="225.0" stroke="#000" stroke-width="3.7"/><text x="1003.0" y="235.0" font-size="28" text-anchor="end">0</text><line x1="1008.0" y1="162.9" x2="1023.6" y2="162.9" stroke="#000" stroke-width="3.7"/><text x="1003.0" y="172.9" font-size="28" text-anchor="end">10</text><line x1="1008.0" y1="100.8" x2="1023.6" y2="100.8" stroke="#000" stroke-width="3.7"/><text x="1003.0" y="110.8" font-size="28" text-anchor="end">20</text><line x1="1008.0" y1="38.7" x2="1023.6" y2="38.7" stroke="#000" stroke-width="3.7"/><text x="1003.0" y="48.7" font-size="28" text-anchor="end">30</text><line x1="1008.0" y1="122.5" x2="1023.6" y2="122.5" stroke="#000" stroke-width="3.7"/><line x1="1008.0" y1="267.8" x2="1023.6" y2="267.8" stroke="#000" stroke-width="3.7"/><line x1="1008.0" y1="195.2" x2="1023.6" y2="195.2" stroke="#000" stroke-width="3.7"/><line x1="1023.6" y1="411.3" x2="1023.6" y2="426.9" stroke="#000" stroke-width="3.7"/><text x="1023.6" y="458.3" font-size="28" text-anchor="middle">0</text><line x1="1163.6" y1="411.3" x2="1163.6" y2="426.9" stroke="#000" stroke-width="3.7"/><text x="1163.6" y="458.3" font-size="28" text-anchor="middle">50</text><line x1="1303.5" y1="411.3" x2="1303.5" y2="426.9" stroke="#000" stroke-width="3.7"/><text x="1303.5" y="458.3" font-size="28" text-anchor="middle">100</text><line x1="1443.5" y1="411.3" x2="1443.5" y2="426.9" stroke="#000" stroke-width="3.7"/><text x="1443.5" y="458.3" font-size="28" text-anchor="middle">150</text><line x1="1583.5" y1="411.3" x2="1583.5" y2="426.9" stroke="#000" stroke-width="3.7"/><text x="1583.5" y="458.3" font-size="28" text-anchor="middle">200</text><text x="1302.8" y="501.3" font-size="28.5" text-anchor="middle">LVEDV(mL):(HMadj + manual 3DE)/2</text><text transform="translate(944.0 223.8) rotate(-90)" font-size="28.43" text-anchor="middle">LVEDV(mL):HMadj - manual 3DE</text><text x="1402.6" y="360.2" font-size="27.4">Bias:4.8mL</text><text x="1402.6" y="394.2" font-size="27.4">LOA:±11.7mL</text></g>
<g><line x1="1034.65" y1="719.65" x2="1572.05" y2="719.65" stroke="#000" stroke-width="3.7" stroke-linecap="round" stroke-dasharray="0 11.15"/><line x1="1021.55" y1="644.14" x2="1574.05" y2="644.14" stroke="#f77b14" stroke-width="3.7" stroke-dasharray="10.5 8.14"/><line x1="1021.55" y1="778.38" x2="1574.05" y2="778.38" stroke="#f77b14" stroke-width="3.7" stroke-dasharray="10.5 8.14"/><line x1="1022.95" y1="711.26" x2="1583.05" y2="711.26" stroke="#f77b14" stroke-width="3.6"/><circle cx="1171.3" cy="668.3" r="3.9"/><circle cx="1180.0" cy="673.0" r="3.9"/><circle cx="1188.5" cy="675.6" r="3.9"/><circle cx="1198.2" cy="683.5" r="3.9"/><circle cx="1187.9" cy="693.8" r="3.9"/><circle cx="1195.9" cy="695.5" r="3.9"/><circle cx="1202.9" cy="694.7" r="3.9"/><circle cx="1216.9" cy="678.3" r="3.9"/><circle cx="1239.9" cy="664.0" r="3.9"/><circle cx="1254.2" cy="664.5" r="3.9"/><circle cx="1236.4" cy="691.7" r="3.9"/><circle cx="1265.1" cy="674.5" r="3.9"/><circle cx="1259.8" cy="680.9" r="3.9"/><circle cx="1273.8" cy="679.5" r="3.9"/><circle cx="1282.4" cy="683.2" r="3.9"/><circle cx="1277.9" cy="691.1" r="3.9"/><circle cx="1291.0" cy="688.3" r="3.9"/><circle cx="1299.5" cy="673.9" r="3.9"/><circle cx="1313.9" cy="674.1" r="3.9"/><circle cx="1305.7" cy="690.5" r="3.9"/><circle cx="1300.4" cy="694.6" r="3.9"/><circle cx="1266.6" cy="697.3" r="3.9"/><circle cx="1270.0" cy="705.7" r="3.9"/><circle cx="1282.4" cy="703.1" r="3.9"/><circle cx="1306.0" cy="709.2" r="3.9"/><circle cx="1293.5" cy="713.0" r="3.9"/><circle cx="1228.2" cy="707.6" r="3.9"/><circle cx="1202.5" cy="712.5" r="3.9"/><circle cx="1182.7" cy="716.6" r="3.9"/><circle cx="1180.3" cy="718.1" r="3.9"/><circle cx="1169.8" cy="719.8" r="3.9"/><circle cx="1205.5" cy="721.0" r="3.9"/><circle cx="1151.7" cy="726.8" r="3.9"/><circle cx="1187.3" cy="727.7" r="3.9"/><circle cx="1187.3" cy="730.6" r="3.9"/><circle cx="1203.7" cy="735.3" r="3.9"/><circle cx="1231.2" cy="714.8" r="3.9"/><circle cx="1237.0" cy="713.6" r="3.9"/><circle cx="1233.5" cy="719.5" r="3.9"/><circle cx="1251.0" cy="710.7" r="3.9"/><circle cx="1252.2" cy="716.0" r="3.9"/><circle cx="1254.5" cy="720.6" r="3.9"/><circle cx="1264.5" cy="711.9" r="3.9"/><circle cx="1266.2" cy="717.7" r="3.9"/><circle cx="1259.2" cy="718.3" r="3.9"/><circle cx="1269.1" cy="723.9" r="3.9"/><circle cx="1256.9" cy="728.2" r="3.9"/><circle cx="1277.3" cy="726.3" r="3.9"/><circle cx="1260.4" cy="735.3" r="3.9"/><circle cx="1261.0" cy="738.8" r="3.9"/><circle cx="1280.8" cy="734.7" r="3.9"/><circle cx="1235.8" cy="727.7" r="3.9"/><circle cx="1242.9" cy="728.2" r="3.9"/><circle cx="1230.0" cy="730.0" r="3.9"/><circle cx="1223.6" cy="732.9" r="3.9"/><circle cx="1231.2" cy="734.7" r="3.9"/><circle cx="1239.9" cy="739.1" r="3.9"/><circle cx="1303.6" cy="720.6" r="3.9"/><circle cx="1304.8" cy="724.2" r="3.9"/><circle cx="1291.9" cy="727.7" r="3.9"/><circle cx="1256.6" cy="745.8" r="3.9"/><circle cx="1237.9" cy="751.3" r="3.9"/><circle cx="1274.2" cy="754.3" r="3.9"/><circle cx="1234.1" cy="761.0" r="3.9"/><circle cx="1210.1" cy="770.9" r="3.9"/><circle cx="1265.3" cy="787.3" r="3.9"/><circle cx="1315.3" cy="754.3" r="3.9"/><circle cx="1318.8" cy="747.5" r="3.9"/><circle cx="1318.8" cy="784.3" r="3.9"/><circle cx="1389.1" cy="576.6" r="3.9"/><circle cx="1325.7" cy="594.1" r="3.9"/><circle cx="1421.1" cy="643.5" r="3.9"/><circle cx="1323.2" cy="662.3" r="3.9"/><circle cx="1367.5" cy="668.0" r="3.9"/><circle cx="1380.6" cy="702.8" r="3.9"/><circle cx="1401.0" cy="701.4" r="3.9"/><circle cx="1376.1" cy="709.6" r="3.9"/><circle cx="1433.8" cy="714.1" r="3.9"/><circle cx="1494.8" cy="708.9" r="3.9"/><circle cx="1330.5" cy="718.9" r="3.9"/><circle cx="1333.2" cy="725.7" r="3.9"/><circle cx="1359.8" cy="722.3" r="3.9"/><circle cx="1362.5" cy="729.1" r="3.9"/><circle cx="1388.4" cy="724.1" r="3.9"/><circle cx="1403.4" cy="725.7" r="3.9"/><circle cx="1398.0" cy="730.2" r="3.9"/><circle cx="1438.5" cy="727.1" r="3.9"/><circle cx="1338.0" cy="738.4" r="3.9"/><circle cx="1407.9" cy="739.3" r="3.9"/><circle cx="1483.5" cy="753.2" r="3.9"/><circle cx="1243.8" cy="637.5" r="3.9"/><rect x="1023.0" y="533.2" width="560.1" height="372.9" fill="none" stroke="#000" stroke-width="3.7"/><line x1="1007.4" y1="906.1" x2="1023.0" y2="906.1" stroke="#000" stroke-width="3.7"/><text x="1002.4" y="916.1" font-size="28" text-anchor="end">-20</text><line x1="1007.4" y1="812.9" x2="1023.0" y2="812.9" stroke="#000" stroke-width="3.7"/><text x="1002.4" y="822.9" font-size="28" text-anchor="end">-10</text><line x1="1007.4" y1="719.7" x2="1023.0" y2="719.7" stroke="#000" stroke-width="3.7"/><text x="1002.4" y="729.7" font-size="28" text-anchor="end">0</text><line x1="1007.4" y1="626.4" x2="1023.0" y2="626.4" stroke="#000" stroke-width="3.7"/><text x="1002.4" y="636.4" font-size="28" text-anchor="end">10</text><line x1="1007.4" y1="533.2" x2="1023.0" y2="533.2" stroke="#000" stroke-width="3.7"/><text x="1002.4" y="543.2" font-size="28" text-anchor="end">20</text><line x1="1007.4" y1="644.1" x2="1023.0" y2="644.1" stroke="#000" stroke-width="3.7"/><line x1="1007.4" y1="778.4" x2="1023.0" y2="778.4" stroke="#000" stroke-width="3.7"/><line x1="1007.4" y1="711.3" x2="1023.0" y2="711.3" stroke="#000" stroke-width="3.7"/><line x1="1023.0" y1="906.1" x2="1023.0" y2="921.7" stroke="#000" stroke-width="3.7"/><text x="1023.0" y="953.1" font-size="28" text-anchor="middle">0</text><line x1="1163.0" y1="906.1" x2="1163.0" y2="921.7" stroke="#000" stroke-width="3.7"/><text x="1163.0" y="953.1" font-size="28" text-anchor="middle">20</text><line x1="1303.0" y1="906.1" x2="1303.0" y2="921.7" stroke="#000" stroke-width="3.7"/><text x="1303.0" y="953.1" font-size="28" text-anchor="middle">40</text><line x1="1443.0" y1="906.1" x2="1443.0" y2="921.7" stroke="#000" stroke-width="3.7"/><text x="1443.0" y="953.1" font-size="28" text-anchor="middle">60</text><line x1="1583.0" y1="906.1" x2="1583.0" y2="921.7" stroke="#000" stroke-width="3.7"/><text x="1583.0" y="953.1" font-size="28" text-anchor="middle">80</text><text x="1303.7" y="996.1" font-size="28.51" text-anchor="middle">LVESV(mL):(HMadj + manual 3DE)/2</text><text transform="translate(944.0 718.5) rotate(-90)" font-size="28.41" text-anchor="middle">LVESV(mL):HMadj - manual 3DE</text><text x="1402.6" y="857.9" font-size="27.4">Bias:0.9mL</text><text x="1402.6" y="892.7" font-size="27.4">LOA:±7.2mL</text></g>
<g><line x1="1035.15" y1="1208.05" x2="1572.50" y2="1208.05" stroke="#000" stroke-width="3.7" stroke-linecap="round" stroke-dasharray="0 11.15"/><line x1="1022.05" y1="1125.97" x2="1574.50" y2="1125.97" stroke="#f77b14" stroke-width="3.7" stroke-dasharray="10.5 8.14"/><line x1="1022.05" y1="1265.26" x2="1574.50" y2="1265.26" stroke="#f77b14" stroke-width="3.7" stroke-dasharray="10.5 8.14"/><line x1="1023.45" y1="1195.61" x2="1583.50" y2="1195.61" stroke="#f77b14" stroke-width="3.6"/><circle cx="1129.0" cy="1149.9" r="3.9"/><circle cx="1102.6" cy="1164.4" r="3.9"/><circle cx="1096.8" cy="1181.6" r="3.9"/><circle cx="1157.3" cy="1162.7" r="3.9"/><circle cx="1174.7" cy="1161.2" r="3.9"/><circle cx="1173.1" cy="1183.6" r="3.9"/><circle cx="1212.7" cy="1162.5" r="3.9"/><circle cx="1212.1" cy="1185.6" r="3.9"/><circle cx="1213.4" cy="1187.8" r="3.9"/><circle cx="1258.8" cy="1173.9" r="3.9"/><circle cx="1279.0" cy="1176.1" r="3.9"/><circle cx="1287.4" cy="1188.4" r="3.9"/><circle cx="1234.5" cy="1191.4" r="3.9"/><circle cx="1253.6" cy="1191.4" r="3.9"/><circle cx="1128.7" cy="1198.8" r="3.9"/><circle cx="1150.0" cy="1202.5" r="3.9"/><circle cx="1136.5" cy="1209.5" r="3.9"/><circle cx="1160.1" cy="1216.8" r="3.9"/><circle cx="1175.1" cy="1211.6" r="3.9"/><circle cx="1193.9" cy="1210.5" r="3.9"/><circle cx="1197.8" cy="1216.8" r="3.9"/><circle cx="1201.9" cy="1197.5" r="3.9"/><circle cx="1241.3" cy="1199.5" r="3.9"/><circle cx="1243.2" cy="1202.7" r="3.9"/><circle cx="1245.2" cy="1205.3" r="3.9"/><circle cx="1258.8" cy="1198.2" r="3.9"/><circle cx="1265.3" cy="1207.3" r="3.9"/><circle cx="1266.6" cy="1208.6" r="3.9"/><circle cx="1287.4" cy="1212.9" r="3.9"/><circle cx="1118.3" cy="1235.2" r="3.9"/><circle cx="1262.7" cy="1228.7" r="3.9"/><circle cx="1288.7" cy="1241.0" r="3.9"/><circle cx="1235.5" cy="1266.6" r="3.9"/><circle cx="1214.4" cy="1288.4" r="3.9"/><circle cx="1355.3" cy="1103.9" r="3.9"/><circle cx="1330.9" cy="1120.4" r="3.9"/><circle cx="1300.4" cy="1129.6" r="3.9"/><circle cx="1340.0" cy="1133.8" r="3.9"/><circle cx="1343.6" cy="1137.0" r="3.9"/><circle cx="1371.9" cy="1150.0" r="3.9"/><circle cx="1406.6" cy="1146.5" r="3.9"/><circle cx="1356.0" cy="1154.3" r="3.9"/><circle cx="1359.5" cy="1158.2" r="3.9"/><circle cx="1326.1" cy="1164.0" r="3.9"/><circle cx="1342.3" cy="1162.3" r="3.9"/><circle cx="1345.6" cy="1165.6" r="3.9"/><circle cx="1348.8" cy="1168.8" r="3.9"/><circle cx="1382.6" cy="1164.5" r="3.9"/><circle cx="1440.4" cy="1166.5" r="3.9"/><circle cx="1391.7" cy="1177.3" r="3.9"/><circle cx="1395.6" cy="1181.2" r="3.9"/><circle cx="1411.2" cy="1177.9" r="3.9"/><circle cx="1429.6" cy="1177.5" r="3.9"/><circle cx="1359.5" cy="1183.8" r="3.9"/><circle cx="1320.3" cy="1181.2" r="3.9"/><circle cx="1324.2" cy="1185.7" r="3.9"/><circle cx="1327.4" cy="1189.6" r="3.9"/><circle cx="1365.7" cy="1192.2" r="3.9"/><circle cx="1369.6" cy="1195.5" r="3.9"/><circle cx="1384.5" cy="1192.5" r="3.9"/><circle cx="1422.9" cy="1193.2" r="3.9"/><circle cx="1348.8" cy="1193.5" r="3.9"/><circle cx="1351.4" cy="1196.8" r="3.9"/><circle cx="1354.0" cy="1200.0" r="3.9"/><circle cx="1314.4" cy="1197.4" r="3.9"/><circle cx="1318.3" cy="1202.6" r="3.9"/><circle cx="1407.9" cy="1198.3" r="3.9"/><circle cx="1373.8" cy="1201.9" r="3.9"/><circle cx="1394.7" cy="1205.5" r="3.9"/><circle cx="1304.0" cy="1209.5" r="3.9"/><circle cx="1342.3" cy="1211.0" r="3.9"/><circle cx="1361.8" cy="1211.0" r="3.9"/><circle cx="1363.1" cy="1213.0" r="3.9"/><circle cx="1452.1" cy="1207.5" r="3.9"/><circle cx="1457.3" cy="1214.3" r="3.9"/><circle cx="1471.6" cy="1208.4" r="3.9"/><circle cx="1330.6" cy="1219.5" r="3.9"/><circle cx="1334.5" cy="1224.0" r="3.9"/><circle cx="1389.7" cy="1223.6" r="3.9"/><circle cx="1394.3" cy="1230.3" r="3.9"/><circle cx="1401.8" cy="1240.3" r="3.9"/><circle cx="1303.1" cy="1232.5" r="3.9"/><circle cx="1308.6" cy="1239.6" r="3.9"/><circle cx="1311.8" cy="1243.5" r="3.9"/><circle cx="1379.4" cy="1235.1" r="3.9"/><circle cx="1435.8" cy="1235.1" r="3.9"/><circle cx="1370.9" cy="1248.1" r="3.9"/><circle cx="1429.4" cy="1251.3" r="3.9"/><circle cx="1359.9" cy="1258.7" r="3.9"/><circle cx="1379.4" cy="1259.5" r="3.9"/><circle cx="1347.5" cy="1266.9" r="3.9"/><circle cx="1336.3" cy="1079.0" r="3.9"/><circle cx="1487.3" cy="1204.5" r="3.9"/><rect x="1023.5" y="1021.5" width="560.0" height="373.1" fill="none" stroke="#000" stroke-width="3.7"/><line x1="1007.9" y1="1394.6" x2="1023.5" y2="1394.6" stroke="#000" stroke-width="3.7"/><text x="1002.9" y="1404.6" font-size="28" text-anchor="end">-15</text><line x1="1007.9" y1="1332.4" x2="1023.5" y2="1332.4" stroke="#000" stroke-width="3.7"/><text x="1002.9" y="1342.4" font-size="28" text-anchor="end">-10</text><line x1="1007.9" y1="1270.2" x2="1023.5" y2="1270.2" stroke="#000" stroke-width="3.7"/><text x="1002.9" y="1280.2" font-size="28" text-anchor="end">-5</text><line x1="1007.9" y1="1208.0" x2="1023.5" y2="1208.0" stroke="#000" stroke-width="3.7"/><text x="1002.9" y="1218.0" font-size="28" text-anchor="end">0</text><line x1="1007.9" y1="1145.9" x2="1023.5" y2="1145.9" stroke="#000" stroke-width="3.7"/><text x="1002.9" y="1155.9" font-size="28" text-anchor="end">5</text><line x1="1007.9" y1="1083.7" x2="1023.5" y2="1083.7" stroke="#000" stroke-width="3.7"/><text x="1002.9" y="1093.7" font-size="28" text-anchor="end">10</text><line x1="1007.9" y1="1021.5" x2="1023.5" y2="1021.5" stroke="#000" stroke-width="3.7"/><text x="1002.9" y="1031.5" font-size="28" text-anchor="end">15</text><line x1="1007.9" y1="1126.0" x2="1023.5" y2="1126.0" stroke="#000" stroke-width="3.7"/><line x1="1007.9" y1="1265.3" x2="1023.5" y2="1265.3" stroke="#000" stroke-width="3.7"/><line x1="1007.9" y1="1195.6" x2="1023.5" y2="1195.6" stroke="#000" stroke-width="3.7"/><line x1="1023.5" y1="1394.6" x2="1023.5" y2="1410.2" stroke="#000" stroke-width="3.7"/><text x="1023.5" y="1441.6" font-size="28" text-anchor="middle">45</text><line x1="1116.8" y1="1394.6" x2="1116.8" y2="1410.2" stroke="#000" stroke-width="3.7"/><text x="1116.8" y="1441.6" font-size="28" text-anchor="middle">50</text><line x1="1210.1" y1="1394.6" x2="1210.1" y2="1410.2" stroke="#000" stroke-width="3.7"/><text x="1210.1" y="1441.6" font-size="28" text-anchor="middle">55</text><line x1="1303.5" y1="1394.6" x2="1303.5" y2="1410.2" stroke="#000" stroke-width="3.7"/><text x="1303.5" y="1441.6" font-size="28" text-anchor="middle">60</text><line x1="1396.8" y1="1394.6" x2="1396.8" y2="1410.2" stroke="#000" stroke-width="3.7"/><text x="1396.8" y="1441.6" font-size="28" text-anchor="middle">65</text><line x1="1490.2" y1="1394.6" x2="1490.2" y2="1410.2" stroke="#000" stroke-width="3.7"/><text x="1490.2" y="1441.6" font-size="28" text-anchor="middle">70</text><line x1="1583.5" y1="1394.6" x2="1583.5" y2="1410.2" stroke="#000" stroke-width="3.7"/><text x="1583.5" y="1441.6" font-size="28" text-anchor="middle">75</text><text x="1303.3" y="1484.3" font-size="28.41" text-anchor="middle">LVEF(%):(HMadj + manual 3DE)/2</text><text transform="translate(944.0 1207.0) rotate(-90)" font-size="28.4" text-anchor="middle">LVEF(%):HMadj - manual 3DE</text><text x="1402.6" y="1341.4" font-size="27.4">Bias:1.0%</text><text x="1402.6" y="1376.9" font-size="27.4">LOA:±5.6%</text></g>
<g><line x1="1034.85" y1="1722.05" x2="1571.85" y2="1722.05" stroke="#000" stroke-width="3.7" stroke-linecap="round" stroke-dasharray="0 11.15"/><line x1="1021.75" y1="1623.18" x2="1573.85" y2="1623.18" stroke="#f77b14" stroke-width="3.7" stroke-dasharray="10.5 8.14"/><line x1="1021.75" y1="1799.78" x2="1573.85" y2="1799.78" stroke="#f77b14" stroke-width="3.7" stroke-dasharray="10.5 8.14"/><line x1="1023.15" y1="1711.48" x2="1582.85" y2="1711.48" stroke="#f77b14" stroke-width="3.6"/><circle cx="1213.5" cy="1623.9" r="3.9"/><circle cx="1265.5" cy="1630.1" r="3.9"/><circle cx="1271.3" cy="1633.0" r="3.9"/><circle cx="1278.4" cy="1638.2" r="3.9"/><circle cx="1255.1" cy="1646.9" r="3.9"/><circle cx="1245.3" cy="1652.5" r="3.9"/><circle cx="1238.4" cy="1658.7" r="3.9"/><circle cx="1234.3" cy="1667.4" r="3.9"/><circle cx="1200.1" cy="1651.8" r="3.9"/><circle cx="1210.9" cy="1661.8" r="3.9"/><circle cx="1290.1" cy="1666.1" r="3.9"/><circle cx="1289.5" cy="1675.8" r="3.9"/><circle cx="1172.6" cy="1678.4" r="3.9"/><circle cx="1316.8" cy="1650.1" r="3.9"/><circle cx="1240.8" cy="1695.1" r="3.9"/><circle cx="1311.6" cy="1697.9" r="3.9"/><circle cx="1191.2" cy="1699.5" r="3.9"/><circle cx="1209.6" cy="1695.3" r="3.9"/><circle cx="1213.5" cy="1699.9" r="3.9"/><circle cx="1272.6" cy="1700.5" r="3.9"/><circle cx="1280.4" cy="1696.6" r="3.9"/><circle cx="1281.0" cy="1700.5" r="3.9"/><circle cx="1292.7" cy="1700.8" r="3.9"/><circle cx="1298.6" cy="1701.8" r="3.9"/><circle cx="1158.3" cy="1703.1" r="3.9"/><circle cx="1154.0" cy="1708.6" r="3.9"/><circle cx="1170.6" cy="1706.4" r="3.9"/><circle cx="1251.8" cy="1705.7" r="3.9"/><circle cx="1229.7" cy="1708.1" r="3.9"/><circle cx="1207.7" cy="1709.6" r="3.9"/><circle cx="1217.4" cy="1715.5" r="3.9"/><circle cx="1220.0" cy="1718.7" r="3.9"/><circle cx="1223.9" cy="1721.0" r="3.9"/><circle cx="1229.1" cy="1716.1" r="3.9"/><circle cx="1213.5" cy="1721.3" r="3.9"/><circle cx="1257.7" cy="1719.4" r="3.9"/><circle cx="1261.6" cy="1723.2" r="3.9"/><circle cx="1282.3" cy="1717.4" r="3.9"/><circle cx="1307.7" cy="1720.0" r="3.9"/><circle cx="1305.7" cy="1723.2" r="3.9"/><circle cx="1311.6" cy="1722.6" r="3.9"/><circle cx="1146.6" cy="1723.9" r="3.9"/><circle cx="1150.5" cy="1727.8" r="3.9"/><circle cx="1153.8" cy="1731.7" r="3.9"/><circle cx="1133.6" cy="1729.7" r="3.9"/><circle cx="1173.0" cy="1729.7" r="3.9"/><circle cx="1195.3" cy="1727.8" r="3.9"/><circle cx="1203.8" cy="1728.4" r="3.9"/><circle cx="1193.4" cy="1733.0" r="3.9"/><circle cx="1188.2" cy="1736.9" r="3.9"/><circle cx="1242.1" cy="1726.5" r="3.9"/><circle cx="1248.6" cy="1730.4" r="3.9"/><circle cx="1253.8" cy="1730.4" r="3.9"/><circle cx="1273.2" cy="1727.1" r="3.9"/><circle cx="1222.6" cy="1737.5" r="3.9"/><circle cx="1228.4" cy="1738.8" r="3.9"/><circle cx="1283.6" cy="1734.9" r="3.9"/><circle cx="1289.5" cy="1739.5" r="3.9"/><circle cx="1282.3" cy="1742.7" r="3.9"/><circle cx="1301.2" cy="1740.1" r="3.9"/><circle cx="1173.0" cy="1742.7" r="3.9"/><circle cx="1197.9" cy="1740.1" r="3.9"/><circle cx="1184.9" cy="1746.2" r="3.9"/><circle cx="1181.0" cy="1751.4" r="3.9"/><circle cx="1202.5" cy="1748.6" r="3.9"/><circle cx="1161.3" cy="1752.5" r="3.9"/><circle cx="1242.1" cy="1741.4" r="3.9"/><circle cx="1238.4" cy="1747.0" r="3.9"/><circle cx="1227.4" cy="1747.5" r="3.9"/><circle cx="1316.1" cy="1746.6" r="3.9"/><circle cx="1172.6" cy="1764.8" r="3.9"/><circle cx="1184.5" cy="1768.3" r="3.9"/><circle cx="1207.7" cy="1771.3" r="3.9"/><circle cx="1262.2" cy="1765.7" r="3.9"/><circle cx="1278.4" cy="1762.5" r="3.9"/><circle cx="1301.8" cy="1768.7" r="3.9"/><circle cx="1239.7" cy="1777.8" r="3.9"/><circle cx="1270.6" cy="1778.7" r="3.9"/><circle cx="1241.0" cy="1796.0" r="3.9"/><circle cx="1296.9" cy="1794.0" r="3.9"/><circle cx="1309.9" cy="1565.7" r="3.9"/><circle cx="1344.6" cy="1560.1" r="3.9"/><circle cx="1378.5" cy="1586.8" r="3.9"/><circle cx="1341.1" cy="1631.7" r="3.9"/><circle cx="1329.0" cy="1651.6" r="3.9"/><circle cx="1337.2" cy="1650.1" r="3.9"/><circle cx="1337.4" cy="1677.9" r="3.9"/><circle cx="1357.3" cy="1679.3" r="3.9"/><circle cx="1342.3" cy="1699.9" r="3.9"/><circle cx="1342.3" cy="1710.1" r="3.9"/><circle cx="1406.6" cy="1710.1" r="3.9"/><circle cx="1391.2" cy="1715.9" r="3.9"/><circle cx="1357.9" cy="1718.2" r="3.9"/><circle cx="1374.8" cy="1717.9" r="3.9"/><circle cx="1353.2" cy="1734.6" r="3.9"/><circle cx="1434.2" cy="1734.0" r="3.9"/><circle cx="1322.4" cy="1745.7" r="3.9"/><circle cx="1338.6" cy="1756.8" r="3.9"/><circle cx="1449.0" cy="1751.0" r="3.9"/><rect x="1023.1" y="1535.5" width="559.7" height="373.1" fill="none" stroke="#000" stroke-width="3.7"/><line x1="1007.5" y1="1908.6" x2="1023.1" y2="1908.6" stroke="#000" stroke-width="3.7"/><text x="1002.5" y="1918.6" font-size="28" text-anchor="end">-30</text><line x1="1007.5" y1="1846.4" x2="1023.1" y2="1846.4" stroke="#000" stroke-width="3.7"/><text x="1002.5" y="1856.4" font-size="28" text-anchor="end">-20</text><line x1="1007.5" y1="1784.2" x2="1023.1" y2="1784.2" stroke="#000" stroke-width="3.7"/><text x="1002.5" y="1794.2" font-size="28" text-anchor="end">-10</text><line x1="1007.5" y1="1722.0" x2="1023.1" y2="1722.0" stroke="#000" stroke-width="3.7"/><text x="1002.5" y="1732.0" font-size="28" text-anchor="end">0</text><line x1="1007.5" y1="1659.9" x2="1023.1" y2="1659.9" stroke="#000" stroke-width="3.7"/><text x="1002.5" y="1669.9" font-size="28" text-anchor="end">10</text><line x1="1007.5" y1="1597.7" x2="1023.1" y2="1597.7" stroke="#000" stroke-width="3.7"/><text x="1002.5" y="1607.7" font-size="28" text-anchor="end">20</text><line x1="1007.5" y1="1535.5" x2="1023.1" y2="1535.5" stroke="#000" stroke-width="3.7"/><text x="1002.5" y="1545.5" font-size="28" text-anchor="end">30</text><line x1="1007.5" y1="1623.2" x2="1023.1" y2="1623.2" stroke="#000" stroke-width="3.7"/><line x1="1007.5" y1="1799.8" x2="1023.1" y2="1799.8" stroke="#000" stroke-width="3.7"/><line x1="1007.5" y1="1711.5" x2="1023.1" y2="1711.5" stroke="#000" stroke-width="3.7"/><line x1="1023.1" y1="1908.6" x2="1023.1" y2="1924.2" stroke="#000" stroke-width="3.7"/><text x="1023.1" y="1955.6" font-size="28" text-anchor="middle">0</text><line x1="1163.1" y1="1908.6" x2="1163.1" y2="1924.2" stroke="#000" stroke-width="3.7"/><text x="1163.1" y="1955.6" font-size="28" text-anchor="middle">50</text><line x1="1303.0" y1="1908.6" x2="1303.0" y2="1924.2" stroke="#000" stroke-width="3.7"/><text x="1303.0" y="1955.6" font-size="28" text-anchor="middle">100</text><line x1="1442.9" y1="1908.6" x2="1442.9" y2="1924.2" stroke="#000" stroke-width="3.7"/><text x="1442.9" y="1955.6" font-size="28" text-anchor="middle">150</text><line x1="1582.8" y1="1908.6" x2="1582.8" y2="1924.2" stroke="#000" stroke-width="3.7"/><text x="1582.8" y="1955.6" font-size="28" text-anchor="middle">200</text><text x="1303.2" y="1998.2" font-size="28.55" text-anchor="middle">LAVmax(mL):(HMadj + manual 3DE)/2</text><text transform="translate(944.0 1721.0) rotate(-90)" font-size="28.4" text-anchor="middle">LAVmax(mL):HMadj - manual 3DE</text><text x="1402.6" y="1860.7" font-size="27.4">Bias:1.7mL</text><text x="1402.6" y="1896.2" font-size="27.4">LOA:±14.2mL</text></g>
<g><line x1="1033.65" y1="2213.98" x2="1570.95" y2="2213.98" stroke="#000" stroke-width="3.7" stroke-linecap="round" stroke-dasharray="0 11.15"/><line x1="1020.55" y1="2151.01" x2="1572.95" y2="2151.01" stroke="#f77b14" stroke-width="3.7" stroke-dasharray="10.5 8.14"/><line x1="1020.55" y1="2282.54" x2="1572.95" y2="2282.54" stroke="#f77b14" stroke-width="3.7" stroke-dasharray="10.5 8.14"/><line x1="1021.95" y1="2216.77" x2="1581.95" y2="2216.77" stroke="#f77b14" stroke-width="3.6"/><circle cx="1160.8" cy="2177.8" r="3.9"/><circle cx="1169.0" cy="2189.5" r="3.9"/><circle cx="1181.7" cy="2193.1" r="3.9"/><circle cx="1200.8" cy="2194.9" r="3.9"/><circle cx="1216.4" cy="2196.0" r="3.9"/><circle cx="1210.5" cy="2199.9" r="3.9"/><circle cx="1249.5" cy="2192.7" r="3.9"/><circle cx="1252.7" cy="2193.4" r="3.9"/><circle cx="1257.3" cy="2197.3" r="3.9"/><circle cx="1272.9" cy="2197.3" r="3.9"/><circle cx="1170.3" cy="2201.8" r="3.9"/><circle cx="1185.8" cy="2204.0" r="3.9"/><circle cx="1144.9" cy="2205.1" r="3.9"/><circle cx="1152.7" cy="2204.0" r="3.9"/><circle cx="1147.5" cy="2208.3" r="3.9"/><circle cx="1089.7" cy="2215.2" r="3.9"/><circle cx="1099.2" cy="2220.0" r="3.9"/><circle cx="1107.9" cy="2214.8" r="3.9"/><circle cx="1115.1" cy="2213.5" r="3.9"/><circle cx="1127.4" cy="2215.5" r="3.9"/><circle cx="1156.0" cy="2212.9" r="3.9"/><circle cx="1165.1" cy="2215.5" r="3.9"/><circle cx="1167.0" cy="2220.0" r="3.9"/><circle cx="1159.9" cy="2223.2" r="3.9"/><circle cx="1164.4" cy="2224.5" r="3.9"/><circle cx="1147.5" cy="2220.6" r="3.9"/><circle cx="1187.1" cy="2215.7" r="3.9"/><circle cx="1193.6" cy="2212.2" r="3.9"/><circle cx="1198.2" cy="2214.2" r="3.9"/><circle cx="1207.9" cy="2211.6" r="3.9"/><circle cx="1211.2" cy="2211.3" r="3.9"/><circle cx="1210.9" cy="2219.4" r="3.9"/><circle cx="1220.3" cy="2215.5" r="3.9"/><circle cx="1222.9" cy="2218.7" r="3.9"/><circle cx="1226.8" cy="2221.3" r="3.9"/><circle cx="1247.5" cy="2220.0" r="3.9"/><circle cx="1251.4" cy="2218.7" r="3.9"/><circle cx="1270.3" cy="2220.0" r="3.9"/><circle cx="1274.8" cy="2211.3" r="3.9"/><circle cx="1278.1" cy="2220.6" r="3.9"/><circle cx="1175.8" cy="2225.6" r="3.9"/><circle cx="1202.5" cy="2225.8" r="3.9"/><circle cx="1200.8" cy="2232.3" r="3.9"/><circle cx="1214.4" cy="2228.7" r="3.9"/><circle cx="1229.4" cy="2228.4" r="3.9"/><circle cx="1241.7" cy="2231.3" r="3.9"/><circle cx="1252.7" cy="2229.1" r="3.9"/><circle cx="1254.7" cy="2225.8" r="3.9"/><circle cx="1127.4" cy="2225.6" r="3.9"/><circle cx="1126.1" cy="2231.3" r="3.9"/><circle cx="1097.9" cy="2235.8" r="3.9"/><circle cx="1184.2" cy="2237.3" r="3.9"/><circle cx="1196.6" cy="2239.9" r="3.9"/><circle cx="1221.6" cy="2237.3" r="3.9"/><circle cx="1233.9" cy="2239.5" r="3.9"/><circle cx="1238.4" cy="2241.4" r="3.9"/><circle cx="1224.8" cy="2245.6" r="3.9"/><circle cx="1241.4" cy="2249.5" r="3.9"/><circle cx="1152.1" cy="2250.1" r="3.9"/><circle cx="1178.7" cy="2260.3" r="3.9"/><circle cx="1258.6" cy="2264.2" r="3.9"/><circle cx="1157.9" cy="2273.2" r="3.9"/><circle cx="1155.3" cy="2276.5" r="3.9"/><circle cx="1263.8" cy="2286.0" r="3.9"/><circle cx="1202.3" cy="2291.7" r="3.9"/><circle cx="1253.4" cy="2297.0" r="3.9"/><circle cx="1263.9" cy="2128.2" r="3.9"/><circle cx="1267.1" cy="2163.5" r="3.9"/><circle cx="1323.0" cy="2163.2" r="3.9"/><circle cx="1330.1" cy="2163.0" r="3.9"/><circle cx="1323.6" cy="2174.9" r="3.9"/><circle cx="1291.2" cy="2177.5" r="3.9"/><circle cx="1415.6" cy="2180.8" r="3.9"/><circle cx="1451.6" cy="2178.2" r="3.9"/><circle cx="1289.9" cy="2193.4" r="3.9"/><circle cx="1309.4" cy="2204.2" r="3.9"/><circle cx="1321.0" cy="2205.5" r="3.9"/><circle cx="1341.6" cy="2200.9" r="3.9"/><circle cx="1342.5" cy="2202.9" r="3.9"/><circle cx="1371.9" cy="2202.9" r="3.9"/><circle cx="1284.0" cy="2206.8" r="3.9"/><circle cx="1321.0" cy="2213.9" r="3.9"/><circle cx="1324.9" cy="2215.2" r="3.9"/><circle cx="1322.3" cy="2220.4" r="3.9"/><circle cx="1324.9" cy="2224.9" r="3.9"/><circle cx="1312.6" cy="2221.9" r="3.9"/><circle cx="1346.4" cy="2221.9" r="3.9"/><circle cx="1344.7" cy="2227.9" r="3.9"/><circle cx="1304.8" cy="2231.0" r="3.9"/><circle cx="1365.8" cy="2233.6" r="3.9"/><circle cx="1333.8" cy="2237.9" r="3.9"/><circle cx="1284.4" cy="2253.9" r="3.9"/><circle cx="1298.6" cy="2261.3" r="3.9"/><circle cx="1353.5" cy="2258.7" r="3.9"/><circle cx="1283.0" cy="2324.2" r="3.9"/><circle cx="1248.6" cy="2099.3" r="3.9"/><circle cx="1160.8" cy="2141.3" r="3.9"/><circle cx="1223.7" cy="2149.7" r="3.9"/><circle cx="1222.9" cy="2156.5" r="3.9"/><rect x="1022.0" y="2027.4" width="560.0" height="373.2" fill="none" stroke="#000" stroke-width="3.7"/><line x1="1006.4" y1="2400.6" x2="1022.0" y2="2400.6" stroke="#000" stroke-width="3.7"/><text x="1001.4" y="2410.6" font-size="28" text-anchor="end">-40</text><line x1="1006.4" y1="2307.3" x2="1022.0" y2="2307.3" stroke="#000" stroke-width="3.7"/><text x="1001.4" y="2317.3" font-size="28" text-anchor="end">-20</text><line x1="1006.4" y1="2214.0" x2="1022.0" y2="2214.0" stroke="#000" stroke-width="3.7"/><text x="1001.4" y="2224.0" font-size="28" text-anchor="end">0</text><line x1="1006.4" y1="2120.7" x2="1022.0" y2="2120.7" stroke="#000" stroke-width="3.7"/><text x="1001.4" y="2130.7" font-size="28" text-anchor="end">20</text><line x1="1006.4" y1="2027.4" x2="1022.0" y2="2027.4" stroke="#000" stroke-width="3.7"/><text x="1001.4" y="2037.4" font-size="28" text-anchor="end">40</text><line x1="1006.4" y1="2151.0" x2="1022.0" y2="2151.0" stroke="#000" stroke-width="3.7"/><line x1="1006.4" y1="2282.5" x2="1022.0" y2="2282.5" stroke="#000" stroke-width="3.7"/><line x1="1006.4" y1="2216.8" x2="1022.0" y2="2216.8" stroke="#000" stroke-width="3.7"/><line x1="1022.0" y1="2400.6" x2="1022.0" y2="2416.2" stroke="#000" stroke-width="3.7"/><text x="1022.0" y="2447.6" font-size="28" text-anchor="middle">0</text><line x1="1115.3" y1="2400.6" x2="1115.3" y2="2416.2" stroke="#000" stroke-width="3.7"/><text x="1115.3" y="2447.6" font-size="28" text-anchor="middle">25</text><line x1="1208.6" y1="2400.6" x2="1208.6" y2="2416.2" stroke="#000" stroke-width="3.7"/><text x="1208.6" y="2447.6" font-size="28" text-anchor="middle">50</text><line x1="1302.0" y1="2400.6" x2="1302.0" y2="2416.2" stroke="#000" stroke-width="3.7"/><text x="1302.0" y="2447.6" font-size="28" text-anchor="middle">75</text><line x1="1395.3" y1="2400.6" x2="1395.3" y2="2416.2" stroke="#000" stroke-width="3.7"/><text x="1395.3" y="2447.6" font-size="28" text-anchor="middle">100</text><line x1="1488.6" y1="2400.6" x2="1488.6" y2="2416.2" stroke="#000" stroke-width="3.7"/><text x="1488.6" y="2447.6" font-size="28" text-anchor="middle">125</text><line x1="1582.0" y1="2400.6" x2="1582.0" y2="2416.2" stroke="#000" stroke-width="3.7"/><text x="1582.0" y="2447.6" font-size="28" text-anchor="middle">150</text><text x="1302.7" y="2489.1" font-size="28.42" text-anchor="middle">LAVmin(mL):(HMadj + manual 3DE)/2</text><text transform="translate(944.0 2213.2) rotate(-90)" font-size="28.39" text-anchor="middle">LAVmin(mL):HMadj - manual 3DE</text><text x="1402.6" y="2349.0" font-size="27.4">Bias:-0.6mL</text><text x="1402.6" y="2384.1" font-size="27.4">LOA:±14.1mL</text></g>
</svg></body></html>
